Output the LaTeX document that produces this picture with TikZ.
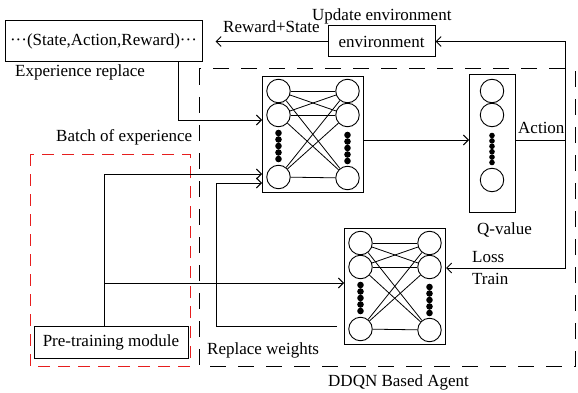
\documentclass[tikz,border=0pt]{standalone}
\usepackage{fontspec}
\setmainfont{Liberation Serif}
\usetikzlibrary{arrows.meta}
\definecolor{dashred}{RGB}{230,30,30}
\tikzset{
  lbl/.style={inner sep=0pt, anchor=base west},
  boxnode/.style={draw, line width=1pt, inner sep=0pt},
  neuron/.style={draw, circle, minimum size=23.5pt, inner sep=0pt, line width=0.9pt},
  arr/.style={line width=0.9pt, -{Straight Barb[length=5pt,width=10pt]}},
  conn/.style={line width=0.9pt},
  netpic/.pic={
    \node[boxnode, minimum width=101pt, minimum height=116pt, anchor=north west] (-box) at (0,0) {};
    \foreach \i/\yy/\yr in {1/15/15,2/39/39,3/101/102} {
      \node[neuron] (-l\i) at (16.5,\yy) {};
      \node[neuron] (-r\i) at (85.5,\yr) {};
    }
    \foreach \i in {1,2,3} {\foreach \j in {1,2,3} {\draw[line width=0.8pt] (-l\i) -- (-r\j);}}
    \foreach \k in {0,...,4} {
      \fill (16.5,{57+6.5*\k}) circle (3.3pt);
      \fill (85.5,{59+6.5*\k}) circle (3.3pt);
    }
  }
}
\begin{document}
\begin{tikzpicture}[x=1pt,y=-1pt, every node/.append style={font=\fontsize{17}{20}\selectfont}]
\useasboundingbox (0,0) rectangle (578,393);

% dashed regions
\draw[line width=1pt, dash pattern=on 16pt off 12pt] (199,69) rectangle (575,366);
\draw[dashred, line width=1pt, dash pattern=on 12pt off 8pt] (30,154) rectangle (190,366);

% boxes
\node[boxnode, minimum width=197pt, minimum height=41pt] (exp) at (103.5,41.5) {···(State,Action,Reward)···};
\node[boxnode, minimum width=107pt, minimum height=31pt] (env) at (381.5,41.5) {environment};
\node[boxnode, minimum width=154pt, minimum height=32pt] (pre) at (111,342) {Pre-training module};

% networks
\pic (n1) at (262,76) {netpic};
\pic (n2) at (344,228) {netpic};

% Q-value column
\node[boxnode, minimum width=46pt, minimum height=138pt, anchor=north west] (q) at (469,74) {};
\node[neuron] (q1) at (492,91) {};
\node[neuron] (q2) at (492,115) {};
\node[neuron] (q3) at (492,180) {};
\foreach \k in {0,...,5} {\fill (492,{135.5+5.4*\k}) circle (2.8pt);}

% labels
\node[lbl] (lrs) at (223,33) {Reward+State};
\node[lbl] (lue) at (312,21) {Update environment};
\node[lbl] (ler) at (15,77) {Experience replace};
\node[lbl] (lbe) at (56,142) {Batch of experience};
\node[lbl] (lrw) at (207,354) {Replace weights};
\node[lbl] (lag) at (328,386) {DDQN Based Agent};
\node[lbl] (lqv) at (477,234) {Q-value};
\node[lbl] (lac) at (518,134) {Action};
\node[lbl] (llo) at (472,262) {Loss};
\node[lbl] (ltr) at (472,284) {Train};

% connectors
\coordinate (ebot) at (178,62);
\draw[arr] (ebot) |- (n1-box.west |- 0,120);

\coordinate (ptop) at (104,326);
\draw[arr] (ptop) |- (n1-box.west |- 0,174);
\draw[arr] (ptop |- 0,283) -- (n2-box.west |- 0,283);

\coordinate (rws) at (337,326);
\coordinate (rwc) at (216,183);
\draw[arr] (rws) -| (rwc) -- (n1-box.west |- rwc);

\draw[arr] (n1-box.east |- 0,140) -- (q.west |- 0,140);

\coordinate (jr) at (565,140);
\draw[conn] (q.east |- jr) -- (jr);
\draw[arr] (jr) |- (env.east);
\draw[arr] (jr) |- (n2-box.east |- 0,268);

\draw[arr, shorten >=13pt] (env.west) -- (exp.east |- env.west);
\end{tikzpicture}
\end{document}
